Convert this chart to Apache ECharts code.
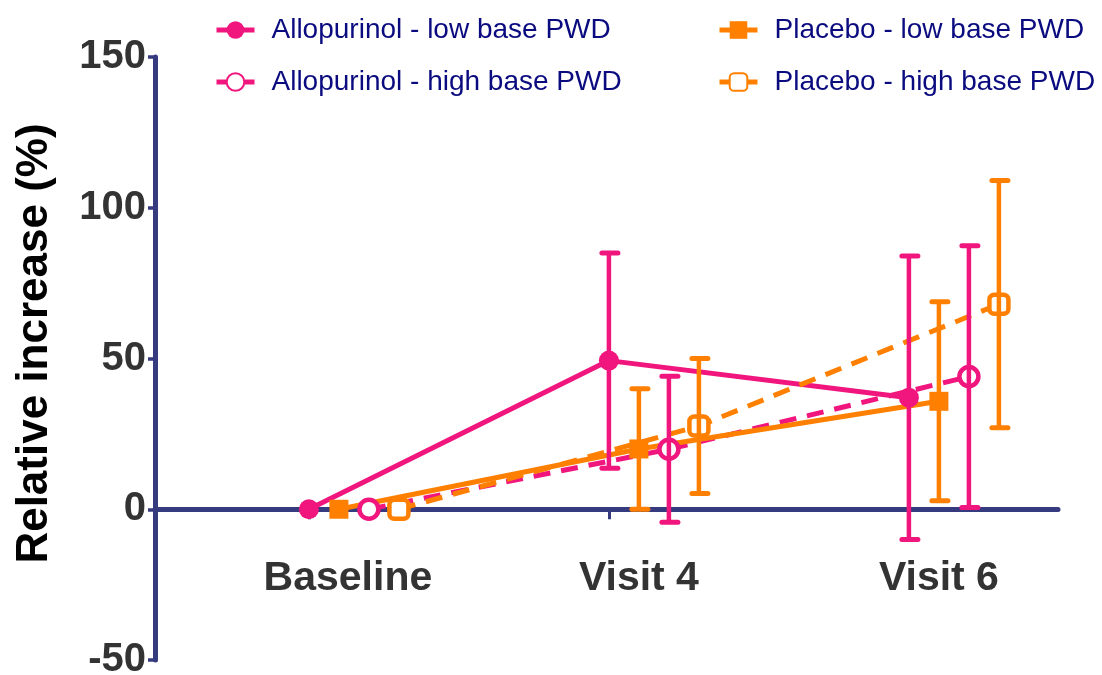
<!DOCTYPE html>
<html>
<head>
<meta charset="utf-8">
<script src="https://cdn.jsdelivr.net/npm/echarts@6/dist/echarts.min.js"></script>
<style>
html,body{margin:0;padding:0;background:#fff;}
#chart{width:1102px;height:675px;}
</style>
</head>
<body>
<div id="chart"></div>
<script>
var categories = ['Baseline', 'Visit 4', 'Visit 6'];
var yTicks = [-50, 0, 50, 100, 150];
var alloLowMean = [0, 49.3, 37];
var alloLowErr = [0, 35.7, 47];
var alloHighMean = [0, 19.9, 44];
var alloHighErr = [0, 24.2, 43.4];
var placeboLowMean = [0, 20, 35.8];
var placeboLowErr = [0, 20, 33];
var placeboHighMean = [0, 27.6, 68];
var placeboHighErr = [0, 22.4, 41];

var PINK = '#f0167e';
var ORANGE = '#ff8000';
var AXIS = '#363b80';
var FONT = '"Liberation Sans", Arial, sans-serif';

function pts(mean, off) {
  return mean.map(function (v, i) { return [i + off, v]; });
}
function errs(mean, err, off) {
  var out = [];
  mean.forEach(function (v, i) {
    if (err[i] > 0) out.push([i + off, v - err[i], v + err[i]]);
  });
  return out;
}
function errSeries(data, color) {
  return {
    type: 'custom',
    z: 5,
    silent: true,
    data: data,
    encode: { x: 0, y: [1, 2] },
    renderItem: function (params, api) {
      var x = api.value(0);
      var lo = api.coord([x, api.value(1)]);
      var hi = api.coord([x, api.value(2)]);
      var hw = 9;
      var st = { stroke: color, lineWidth: 4.5, lineCap: 'butt' };
      var cs = { stroke: color, lineWidth: 5, lineCap: 'round' };
      return {
        type: 'group',
        children: [
          { type: 'line', shape: { x1: lo[0], y1: lo[1], x2: hi[0], y2: hi[1] }, style: st },
          { type: 'line', shape: { x1: hi[0] - hw + 2, y1: hi[1], x2: hi[0] + hw, y2: hi[1] }, style: cs },
          { type: 'line', shape: { x1: lo[0] - hw + 2, y1: lo[1], x2: lo[0] + hw, y2: lo[1] }, style: cs }
        ]
      };
    }
  };
}

var names = ['Allopurinol - low base PWD', 'Allopurinol - high base PWD', 'Placebo - low base PWD', 'Placebo - high base PWD'];

function legendCfg(left, data) {
  return {
    orient: 'vertical', left: left, top: 16, padding: 0,
    itemWidth: 38, itemHeight: 22, itemGap: 24,
    data: data,
    lineStyle: { width: 5 },
    textStyle: { color: '#0b0b80', fontSize: 28, fontFamily: FONT, padding: [0, 0, 0, 12] }
  };
}

var chart = echarts.init(document.getElementById('chart'));
chart.setOption({
  animation: false,
  backgroundColor: '#fff',
  grid: { left: 155, right: 44, top: 57, bottom: 15, containLabel: false, outerBoundsMode: 'none' },
  legend: [legendCfg(214, [names[0], names[1]]), legendCfg(717, [names[2], names[3]])],
  xAxis: {
    type: 'value', min: -0.513, max: 2.497,
    splitLine: { show: false },
    axisLine: { show: true, onZero: true, lineStyle: { color: AXIS, width: 5 } },
    axisTick: { show: true, customValues: [0, 1, 2], length: 10, lineStyle: { color: AXIS, width: 3 } },
    axisLabel: {
      customValues: [0.13, 1.1, 2.1], margin: -102,
      formatter: function (v) { return categories[Math.round(v)]; },
      color: '#333', fontSize: 41, fontWeight: 'bold', fontFamily: FONT
    }
  },
  yAxis: {
    type: 'value', min: yTicks[0], max: yTicks[yTicks.length - 1], interval: 50,
    name: 'Relative increase (%)', nameLocation: 'middle', nameGap: 98,
    nameTextStyle: { color: '#000', fontSize: 44, fontWeight: 'bold', fontFamily: FONT, padding: [0, 0, 0, 30] },
    splitLine: { show: false },
    axisLine: { show: true, onZero: false, lineStyle: { color: AXIS, width: 5 } },
    axisTick: { show: true, length: 7, lineStyle: { color: AXIS, width: 3.5 } },
    axisLabel: { margin: 9, color: '#333', fontSize: 40, fontWeight: 'bold', fontFamily: FONT }
  },
  series: [
    {
      name: names[0], type: 'line', data: pts(alloLowMean, 0), z: 3,
      symbol: 'circle', symbolSize: 20,
      itemStyle: { color: PINK },
      lineStyle: { color: PINK, width: 5 }
    },
    {
      name: names[1], type: 'line', data: pts(alloHighMean, 0.2), z: 3,
      symbol: 'circle', symbolSize: 19,
      itemStyle: { color: '#fff', borderColor: PINK, borderWidth: 4.5 },
      lineStyle: { color: PINK, width: 5, type: [17, 11] }
    },
    {
      name: names[2], type: 'line', data: pts(placeboLowMean, 0.1), z: 3,
      symbol: 'rect', symbolSize: 19,
      itemStyle: { color: ORANGE },
      lineStyle: { color: ORANGE, width: 5 }
    },
    {
      name: names[3], type: 'line', data: pts(placeboHighMean, 0.3), z: 3,
      symbol: 'roundRect', symbolSize: 19,
      itemStyle: { color: '#fff', borderColor: ORANGE, borderWidth: 4.5 },
      lineStyle: { color: ORANGE, width: 5, type: [17, 11] }
    },
    errSeries(errs(alloLowMean, alloLowErr, 0), PINK),
    errSeries(errs(placeboLowMean, placeboLowErr, 0.1), ORANGE),
    errSeries(errs(alloHighMean, alloHighErr, 0.2), PINK),
    errSeries(errs(placeboHighMean, placeboHighErr, 0.3), ORANGE)
  ]
});
</script>
</body>
</html>
